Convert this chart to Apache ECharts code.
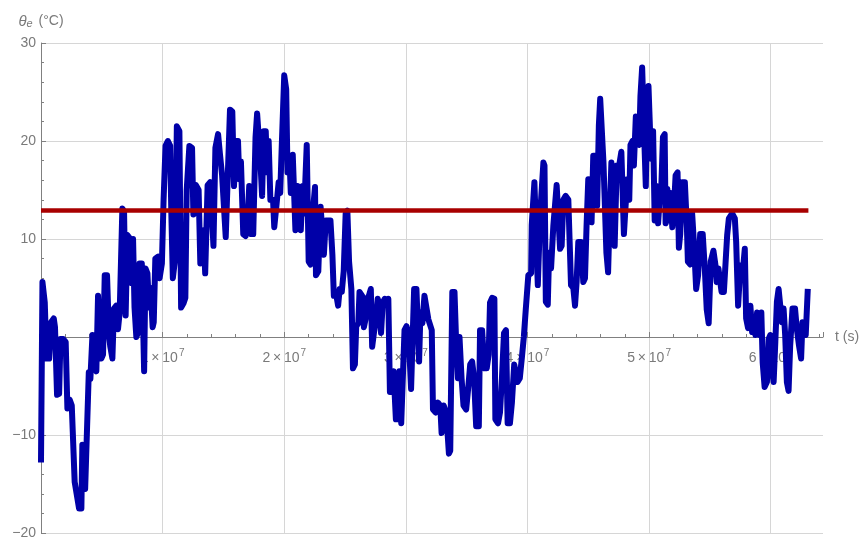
<!DOCTYPE html>
<html>
<head>
<meta charset="utf-8">
<script src="https://cdn.jsdelivr.net/npm/echarts@6/dist/echarts.min.js"></script>
<style>
    html, body { margin: 0; padding: 0; background: #fff; }
    #chart { width: 863px; height: 539px; }
</style>
</head>
<body>
<div id="chart"></div>
<script>
// time (s) and outdoor temperature (°C)
const tSec = [
    0, 0.12e6, 0.31e6, 0.45e6, 0.67e6, 0.83e6, 1.05e6, 1.15e6, 1.32e6, 1.49e6,
    1.6e6, 1.82e6, 2.03e6, 2.17e6, 2.36e6, 2.53e6, 2.77e6, 2.9e6, 3.13e6, 3.32e6,
    3.4e6, 3.5e6, 3.63e6, 3.74e6, 3.93e6, 4.06e6, 4.23e6, 4.39e6, 4.55e6, 4.69e6,
    4.82e6, 4.96e6, 5.1e6, 5.24e6, 5.43e6, 5.59e6, 5.7e6, 5.87e6, 6.0e6, 6.19e6,
    6.33e6, 6.47e6, 6.69e6, 6.83e6, 6.96e6, 7.1e6, 7.35e6, 7.45e6, 7.57e6, 7.69e6,
    7.84e6, 7.99e6, 8.1e6, 8.29e6, 8.48e6, 8.59e6, 8.75e6, 8.88e6, 9.02e6, 9.18e6,
    9.27e6, 9.4e6, 9.62e6, 9.75e6, 9.94e6, 10.08e6, 10.24e6, 10.43e6, 10.62e6, 10.71e6,
    10.84e6, 11.03e6, 11.17e6, 11.38e6, 11.52e6, 11.74e6, 11.87e6, 11.98e6, 12.2e6, 12.42e6,
    12.53e6, 12.74e6, 12.96e6, 13.1e6, 13.18e6, 13.36e6, 13.5e6, 13.7e6, 13.91e6, 14.18e6,
    14.34e6, 14.56e6, 14.72e6, 14.89e6, 15.05e6, 15.19e6, 15.33e6, 15.54e6, 15.73e6, 15.87e6,
    16.03e6, 16.2e6, 16.3e6, 16.44e6, 16.63e6, 16.82e6, 16.96e6, 17.12e6, 17.28e6, 17.45e6,
    17.64e6, 17.77e6, 17.93e6, 18.04e6, 18.18e6, 18.31e6, 18.48e6, 18.59e6, 18.72e6, 18.86e6,
    19.08e6, 19.18e6, 19.35e6, 19.54e6, 19.67e6, 19.81e6, 20.0e6, 20.16e6, 20.27e6, 20.43e6,
    20.54e6, 20.7e6, 20.84e6, 20.92e6, 21.09e6, 21.25e6, 21.36e6, 21.52e6, 21.63e6, 21.85e6,
    22.01e6, 22.17e6, 22.34e6, 22.53e6, 22.61e6, 22.8e6, 22.99e6, 23.15e6, 23.26e6, 23.42e6,
    23.61e6, 23.8e6, 23.96e6, 24.08e6, 24.24e6, 24.43e6, 24.56e6, 24.73e6, 24.89e6, 25.05e6,
    25.19e6, 25.33e6, 25.52e6, 25.65e6, 25.81e6, 25.92e6, 26.09e6, 26.19e6, 26.41e6, 26.55e6,
    26.68e6, 26.79e6, 26.96e6, 27.12e6, 27.23e6, 27.39e6, 27.55e6, 27.69e6, 27.82e6, 27.96e6,
    28.1e6, 28.26e6, 28.42e6, 28.56e6, 28.69e6, 28.86e6, 28.99e6, 29.18e6, 29.35e6, 29.46e6,
    29.62e6, 29.78e6, 29.89e6, 30.05e6, 30.22e6, 30.43e6, 30.54e6, 30.68e6, 30.87e6, 31.09e6,
    31.2e6, 31.36e6, 31.53e6, 31.69e6, 31.85e6, 32.0e6, 32.13e6, 32.23e6, 32.45e6, 32.64e6,
    32.83e6, 32.94e6, 33.11e6, 33.32e6, 33.54e6, 33.65e6, 33.82e6, 34.0e6, 34.14e6, 34.28e6,
    34.41e6, 34.58e6, 34.74e6, 34.96e6, 35.12e6, 35.29e6, 35.45e6, 35.61e6, 35.78e6, 36.0e6,
    36.1e6, 36.27e6, 36.46e6, 36.65e6, 36.81e6, 36.92e6, 37.09e6, 37.28e6, 37.36e6, 37.58e6,
    37.74e6, 37.9e6, 38.07e6, 38.23e6, 38.37e6, 38.56e6, 38.72e6, 38.91e6, 39.05e6, 39.18e6,
    39.37e6, 39.54e6, 39.7e6, 39.86e6, 40.07e6, 40.3e6, 40.35e6, 40.57e6, 40.7e6, 40.85e6,
    41.04e6, 41.31e6, 41.4e6, 41.51e6, 41.67e6, 41.78e6, 41.94e6, 42.13e6, 42.4e6, 42.54e6,
    42.68e6, 42.81e6, 42.95e6, 43.14e6, 43.36e6, 43.58e6, 43.77e6, 43.91e6, 44.04e6, 44.18e6,
    44.4e6, 44.59e6, 44.73e6, 44.86e6, 45.0e6, 45.16e6, 45.27e6, 45.41e6, 45.6e6, 45.73e6,
    45.87e6, 45.98e6, 46.14e6, 46.25e6, 46.38e6, 46.49e6, 46.63e6, 46.76e6, 46.9e6, 47.06e6,
    47.17e6, 47.34e6, 47.5e6, 47.72e6, 47.93e6, 48.07e6, 48.2e6, 48.37e6, 48.47e6, 48.64e6,
    48.75e6, 48.91e6, 49.02e6, 49.18e6, 49.29e6, 49.43e6, 49.51e6, 49.62e6, 49.73e6, 49.78e6,
    49.95e6, 50.05e6, 50.16e6, 50.33e6, 50.46e6, 50.6e6, 50.74e6, 50.87e6, 51.0e6, 51.14e6,
    51.28e6, 51.36e6, 51.5e6, 51.63e6, 51.74e6, 51.91e6, 52.02e6, 52.18e6, 52.34e6, 52.45e6,
    52.56e6, 52.72e6, 52.94e6, 53.11e6, 53.19e6, 53.38e6, 53.54e6, 53.71e6, 53.87e6, 54.03e6,
    54.2e6, 54.41e6, 54.58e6, 54.74e6, 54.9e6, 55.07e6, 55.29e6, 55.45e6, 55.56e6, 55.7e6,
    55.96e6, 56.15e6, 56.29e6, 56.42e6, 56.56e6, 56.83e6, 57.05e6, 57.16e6, 57.32e6, 57.51e6,
    57.7e6, 57.87e6, 57.98e6, 58.14e6, 58.33e6, 58.47e6, 58.61e6, 58.74e6, 58.88e6, 59.07e6,
    59.23e6, 59.34e6, 59.5e6, 59.69e6, 59.83e6, 59.97e6, 60.1e6, 60.24e6, 60.38e6, 60.51e6,
    60.65e6, 60.79e6, 60.92e6, 61.06e6, 61.19e6, 61.33e6, 61.47e6, 61.6e6, 61.79e6, 62.0e6,
    62.14e6, 62.33e6, 62.5e6, 62.61e6, 62.77e6, 62.88e6, 63.05e6
];
const thetaE = [
    -12.8, 5.6, 3.5, -2.2, -2.2, 1.5, 1.9, 1.0, -5.9, -5.8,
    -0.2, -0.2, -0.5, -7.3, -6.4, -7.0, -14.8, -15.0, -17.5, -17.5,
    -11.0, -11.2, -15.5, -15.3, -3.6, -4.3, 0.2, -3.0, -3.5, 4.2,
    4.3, -2.2, -1.8, 6.3, 6.3, 0.2, -1.0, -2.2, 2.9, 3.2,
    0.8, 2.5, 13.1, 12.8, 2.2, 10.4, 10.0, 5.5, 10.0, 3.0,
    0.0, 0.5, 7.5, 7.5, -3.5, 7.0, 6.5, 3.0, 5.0, 1.0,
    1.5, 8.0, 8.2, 6.0, 7.5, 14.0, 19.5, 20.0, 19.5, 13.0,
    6.0, 8.0, 21.5, 21.0, 3.0, 3.5, 4.0, 15.0, 19.5, 19.3,
    12.5, 15.5, 15.0, 7.5, 7.8, 10.9, 6.5, 15.5, 15.8, 9.3,
    19.3, 20.7, 18.6, 16.5, 16.6, 10.2, 10.3, 23.2, 23.0, 15.4,
    20.0, 20.0, 16.1, 17.9, 10.5, 10.3, 11.2, 15.4, 10.5, 10.5,
    20.4, 22.8, 22.8, 17.9, 14.4, 21.0, 21.0, 16.8, 20.0, 14.0,
    14.0, 11.2, 13.3, 15.8, 14.7, 20.0, 26.7, 25.3, 16.8, 18.2,
    14.7, 18.6, 18.6, 10.9, 15.4, 15.4, 10.9, 15.4, 12.6, 19.6,
    7.7, 7.4, 12.6, 15.3, 6.3, 6.7, 13.3, 13.5, 8.4, 11.9,
    11.9, 11.9, 8.4, 4.2, 4.6, 3.2, 4.9, 4.6, 6.7, 12.6,
    12.9, 7.7, 4.9, -3.2, -2.8, 1.1, 1.4, 4.6, 4.2, 1.0,
    1.8, 3.9, 4.2, 4.9, -1.0, -0.9, 2.1, 3.9, 2.8, 0.4,
    3.5, 3.9, 3.5, 3.9, -5.6, -5.6, -3.5, -8.4, -8.4, -3.5,
    -8.8, -8.8, 0.7, 1.1, 0.4, -5.3, -5.3, 4.9, 4.9, -2.5,
    2.5, 1.4, 4.2, 4.2, 1.8, 1.8, 0.7, -7.4, -7.7, -6.7,
    -7.0, -9.8, -7.0, -7.7, -11.9, -11.6, 4.6, 4.6, -0.7, -4.2,
    0.0, -4.2, -7.0, -7.4, -5.3, -2.8, -2.5, -4.2, -9.1, -9.1,
    0.7, 0.7, -3.2, -3.2, -1.8, 3.5, 4.0, 3.9, -8.4, -8.8,
    -7.7, -4.2, 0.4, 0.7, -8.8, -8.8, -6.7, -2.8, -2.8, -4.6,
    -4.2, -2.1, 0.0, 2.8, 6.3, 6.5, 11.4, 15.8, 15.8, 5.3,
    12.4, 17.8, 17.5, 3.6, 3.3, 8.6, 7.0, 11.4, 15.5, 15.5,
    9.0, 9.3, 14.0, 14.4, 14.0, 5.3, 5.0, 3.2, 5.6, 9.7,
    9.7, 5.6, 6.0, 11.4, 16.1, 16.1, 11.7, 18.5, 18.5, 13.4,
    21.6, 24.3, 24.3, 17.8, 17.8, 8.6, 6.6, 12.4, 17.8, 17.8,
    9.3, 17.5, 17.2, 18.9, 10.5, 10.5, 16.1, 14.0, 19.6, 20.0,
    17.5, 22.5, 21.0, 19.6, 24.6, 27.5, 27.5, 19.6, 15.4, 19.0,
    25.6, 25.6, 18.2, 21.0, 11.9, 15.4, 11.6, 14.0, 15.1, 20.4,
    20.7, 11.6, 15.1, 11.9, 14.7, 11.2, 12.6, 16.5, 16.8, 9.1,
    10.5, 15.8, 15.8, 11.2, 7.7, 7.4, 12.6, 9.1, 4.9, 6.3,
    10.5, 10.5, 7.0, 2.8, 1.4, 7.7, 8.8, 7.4, 5.6, 7.0,
    4.6, 4.6, 7.6, 10.4, 12.1, 12.6, 12.1, 9.7, 3.2, 7.3,
    6.6, 9.0, 1.9, 0.9, 3.2, 0.5, 1.5, 0.2, 2.5, 0.2,
    2.5, -2.6, -5.1, -4.6, -0.2, 0.2, -3.2, -4.6, -0.5, 3.6,
    4.9, 4.9, 1.5, 2.9, 0.2, -4.6, -5.5, -0.9, 2.9, 2.9,
    0.9, -0.9, -2.2, 1.5, 1.5, 0.2, 4.9
];
// mean temperature line
const meanTheta = 12.9;
const meanSpan = [0, 63.1e6];

// axis ranges
const xMax = 6.43e7;
const xStep = 1e7;
const yMin = -20;
const yMax = 30;
const yStep = 10;

const axisGray = '#808080';
const labelGray = '#7a7a7a';
const font = '"Liberation Sans", Arial, sans-serif';

const gridTop = 43;
const gridHeight = 490;
// x labels sit just under the zero line, not at the bottom of the grid
const zeroOffset = gridHeight * (0 - yMin) / (yMax - yMin);

const chart = echarts.init(document.getElementById('chart'));

const option = {
    animation: false,
    grid: { left: 41, top: gridTop, width: 782, height: gridHeight, containLabel: false, outerBoundsMode: 'none' },
    xAxis: {
        type: 'value',
        min: 0,
        max: xMax,
        interval: xStep,
        name: 't (s)',
        nameLocation: 'end',
        nameGap: 12,
        nameTextStyle: { color: labelGray, fontSize: 14, fontFamily: font },
        axisLine: { show: true, onZero: true, lineStyle: { color: axisGray, width: 1 } },
        axisTick: { show: true, inside: true, length: 5, lineStyle: { color: axisGray } },
        minorTick: { show: true, splitNumber: 5, length: 3, lineStyle: { color: axisGray } },
        splitLine: { show: true, showMaxLine: false, lineStyle: { color: '#d6d6d6', width: 1 } },
        axisLabel: {
            margin: 11 - zeroOffset,
            showMaxLabel: false,
            formatter: (v) => {
                if (v === 0 || v % xStep !== 0) return '';
                return '{n|' + (v / xStep) + '\u2009×\u200910}{s|7}';
            },
            rich: {
                n: { color: labelGray, fontSize: 14, fontFamily: font, verticalAlign: 'bottom' },
                s: { color: labelGray, fontSize: 10, fontFamily: font, verticalAlign: 'top', padding: [0, 0, 7, 1] }
            }
        }
    },
    yAxis: {
        type: 'value',
        min: yMin,
        max: yMax,
        interval: yStep,
        name: '{i|θ}{e|e} (°C)',
        nameLocation: 'end',
        nameGap: 14,
        nameTextStyle: {
            color: labelGray, fontSize: 14, fontFamily: font,
            rich: {
                i: { color: labelGray, fontSize: 15, fontStyle: 'italic', fontFamily: font, verticalAlign: 'bottom' },
                e: { color: labelGray, fontSize: 11, fontStyle: 'italic', fontFamily: font, verticalAlign: 'bottom', padding: [5, 2, 0, 0] }
            }
        },
        axisLine: { show: true, onZero: true, lineStyle: { color: axisGray, width: 1 } },
        axisTick: { show: true, inside: true, length: 5, lineStyle: { color: axisGray } },
        minorTick: { show: true, splitNumber: 5, length: 3, lineStyle: { color: axisGray } },
        splitLine: { show: true, lineStyle: { color: '#d6d6d6', width: 1 } },
        axisLabel: {
            margin: 5,
            color: labelGray,
            fontSize: 14,
            fontFamily: font,
            formatter: (v) => (v === 0 ? '' : (v < 0 ? '\u2212' + Math.abs(v) : String(v)))
        }
    },
    series: [
        {
            type: 'line',
            data: tSec.map((t, i) => [t, thetaE[i]]),
            showSymbol: false,
            symbol: 'none',
            lineStyle: { color: '#0000a8', width: 6, join: 'round' },
            z: 3
        },
        {
            type: 'line',
            data: meanSpan.map((t) => [t, meanTheta]),
            showSymbol: false,
            symbol: 'none',
            lineStyle: { color: '#a80000', width: 4.5 },
            z: 4
        }
    ]
};

chart.setOption(option);
</script>
</body>
</html>
